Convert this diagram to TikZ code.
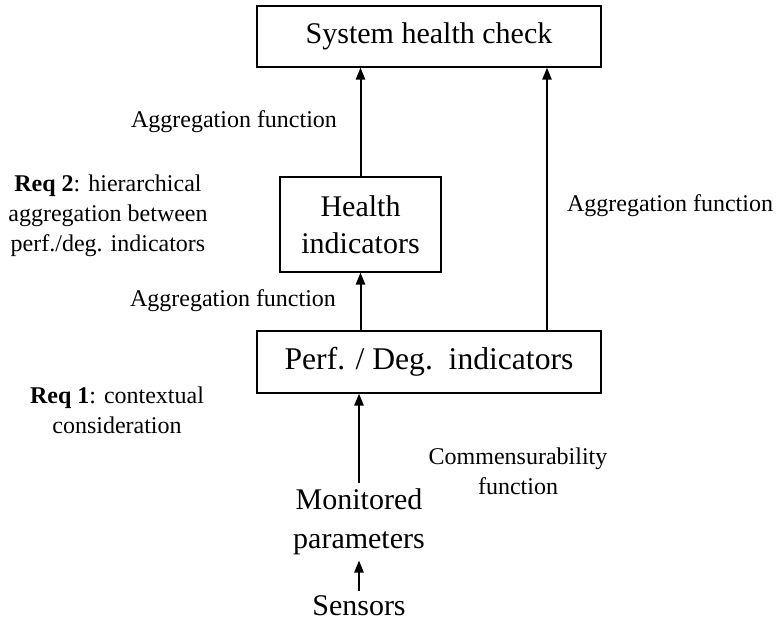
\documentclass[tikz,border=0pt]{standalone}
\usepackage{fontspec}
\setmainfont{Liberation Serif}
\usepackage{tikz}
\usetikzlibrary{arrows.meta, positioning, calc}

\begin{document}
\begin{tikzpicture}[
    x=0.5pt, y=-0.5pt,
    box/.style={draw, line width=0.65pt, inner sep=0pt, align=center, font=\fontsize{15}{18.5}\selectfont},
    plain/.style={align=center, inner sep=2.5pt, font=\fontsize{15}{19.5}\selectfont},
    arrow/.style={-{Triangle[length=6pt, width=4.6pt]}, line width=1pt},
    label/.style={align=center, inner sep=0pt, font=\fontsize{12}{15}\selectfont}
]
    \useasboundingbox (0,0) rectangle (777,625);

    \node[box, minimum width=172pt, minimum height=30.5pt] (check) at (429,36.5) {System health check};
    \node[box, minimum width=80.5pt, minimum height=47.5pt] (health) at (360.5,224.5) {Health\\indicators};
    \node[box, minimum width=172pt, minimum height=31pt, font=\fontsize{15.8}{18.5}\selectfont] (perf) at (429,362) {Perf. / Deg.\ \ indicators};
    \node[plain] (monitored) at (359,522) {Monitored\\parameters};
    \node[plain] (sensors) at (359,606) {Sensors};
    \coordinate (rcol) at (547,0);

    \node[label] (agg1) at (234,122) {Aggregation function};
    \node[label] (agg2) at (233,301) {Aggregation function};
    \node[label] (agg3) at (670,206) {Aggregation function};
    \node[label] (comm) at (518,471) {Commensurability\\function};
    \node[label] (req2) at (108,216) {\textbf{Req 2}: hierarchical\\aggregation between\\perf./deg. indicators};
    \node[label] (req1) at (117,410) {\textbf{Req 1}: contextual\\consideration};

    \draw[arrow] (sensors) -- (monitored);
    \draw[arrow] (monitored) -- (perf.south -| monitored);
    \draw[arrow] (perf.north -| health.south) -- (health.south);
    \draw[arrow] (health.north) -- (check.south -| health.north);
    \draw[arrow] (perf.north -| rcol) -- (check.south -| rcol);
\end{tikzpicture}
\end{document}
